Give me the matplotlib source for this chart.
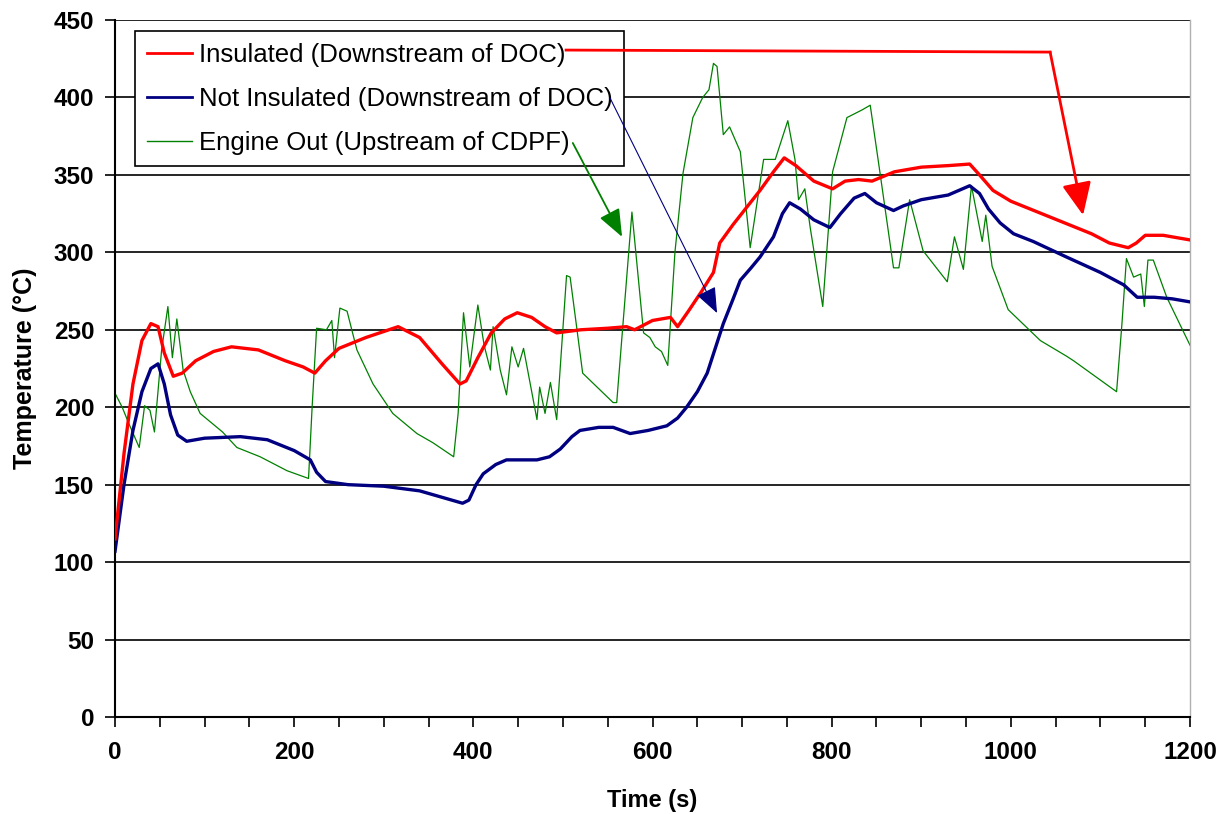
import numpy as np
import matplotlib
matplotlib.use("Agg")
import matplotlib.pyplot as plt
from matplotlib.ticker import MultipleLocator

plt.rcParams['font.family'] = ['Liberation Sans', 'DejaVu Sans']

# Insulated (Downstream of DOC) - time (s), temperature (C)
ins_t = [0, 10, 20, 30, 40, 48, 55, 65, 75, 90, 110, 130, 160, 190, 210, 223,
         235, 250, 280, 316, 340, 365, 385, 392, 405, 420, 435, 449, 465, 480,
         493, 520, 550, 571, 580, 600, 620, 628, 640, 655, 668, 675, 690, 705,
         720, 735, 747, 760, 780, 801, 815, 830, 845, 870, 900, 930, 954, 965,
         980, 1000, 1030, 1060, 1090, 1110, 1131, 1140, 1150, 1170, 1200]
ins_T = [115, 170, 215, 243, 254, 252, 235, 220, 222, 230, 236, 239, 237, 230,
         226, 222, 230, 238, 245, 252, 245, 228, 215, 217, 232, 248, 257, 261,
         258, 252, 248, 250, 251, 252, 250, 256, 258, 252, 262, 275, 287, 306,
         318, 329, 340, 352, 361, 356, 346, 341, 346, 347, 346, 352, 355, 356,
         357, 350, 340, 333, 326, 319, 312, 306, 303, 306, 311, 311, 308]

# Not Insulated (Downstream of DOC)
not_t = [0, 10, 20, 30, 40, 48, 55, 62, 70, 80, 100, 140, 170, 200, 218, 225,
         235, 260, 300, 340, 370, 388, 395, 403, 411, 425, 437, 471, 485, 497,
         510, 519, 540, 556, 575, 595, 616, 628, 638, 650, 661, 670, 679, 690,
         698, 710, 720, 735, 745, 753, 765, 780, 798, 810, 825, 837, 850, 869,
         880, 900, 930, 954, 965, 975, 988, 1003, 1025, 1062, 1100, 1126, 1141,
         1160, 1180, 1200]
not_T = [107, 150, 185, 210, 225, 228, 215, 195, 182, 178, 180, 181, 179, 172,
         166, 158, 152, 150, 149, 146, 141, 138, 140, 150, 157, 163, 166, 166,
         168, 173, 181, 185, 187, 187, 183, 185, 188, 193, 200, 210, 222, 238,
         254, 270, 282, 290, 297, 310, 325, 332, 328, 321, 316, 325, 335, 338,
         332, 327, 330, 334, 337, 343, 338, 328, 319, 312, 307, 297, 287, 279,
         271, 271, 270, 268]

# Engine Out (Upstream of CDPF)
eng_t = [0, 8, 15, 27, 33, 39, 44, 52, 59, 64, 69, 76, 84, 95, 120, 136, 162,
         192, 216, 220, 225, 236, 242, 245, 251, 259, 270, 288, 310, 337, 355,
         378, 383, 389, 396, 405, 412, 419, 422, 430, 437, 443, 450, 456, 471,
         474, 480, 486, 493, 504, 508, 522, 556, 560, 577, 590, 597, 603, 610,
         617, 625, 634, 645, 656, 663, 668, 672, 679, 686, 698, 709, 724, 737,
         751, 759, 763, 770, 776, 790, 801, 817, 834, 843, 854, 869, 875, 887,
         902, 929, 937, 947, 956, 968, 972, 979, 997, 1033, 1062, 1070, 1118,
         1124, 1129, 1137, 1145, 1149, 1153, 1159, 1174, 1200]
eng_T = [209, 200, 190, 174, 201, 198, 184, 237, 265, 232, 257, 224, 210, 196,
         184, 174, 168, 159, 154, 200, 251, 250, 256, 232, 264, 262, 237, 215,
         196, 183, 177, 168, 196, 261, 226, 266, 240, 224, 252, 224, 208, 239,
         226, 238, 192, 213, 196, 216, 192, 285, 284, 222, 203, 203, 326, 248,
         245, 239, 236, 227, 300, 351, 387, 400, 405, 422, 420, 376, 381, 365,
         303, 360, 360, 385, 360, 334, 341, 316, 265, 352, 387, 392, 395, 351,
         290, 290, 334, 301, 281, 310, 289, 343, 307, 324, 291, 263, 243, 233,
         230, 210, 254, 296, 284, 286, 265, 295, 295, 271, 240]

labels = ['Insulated (Downstream of DOC)',
          'Not Insulated (Downstream of DOC)',
          'Engine Out (Upstream of CDPF)']

fig = plt.figure(figsize=(12.29, 8.14), dpi=100)
ax = fig.add_axes([0.0936, 0.1192, 0.8747, 0.8562])

# horizontal gridlines
for yv in range(50, 451, 50):
    ax.axhline(yv, color='black', lw=1.2, zorder=1)

l1, = ax.plot(ins_t, ins_T, color='#ff0000', lw=2.4, zorder=4)
l2, = ax.plot(not_t, not_T, color='#000080', lw=2.4, zorder=3)
l3, = ax.plot(eng_t, eng_T, color='#008000', lw=0.9, zorder=2)

ax.set_xlim(0, 1200)
ax.set_ylim(0, 450)
ax.xaxis.set_major_locator(MultipleLocator(200))
ax.xaxis.set_minor_locator(MultipleLocator(50))
ax.yaxis.set_major_locator(MultipleLocator(50))
ax.tick_params(axis='both', which='both', direction='out', length=7, width=1.2,
               labelsize=17.5)
ax.tick_params(axis='x', pad=10)
ax.tick_params(axis='y', pad=8)
for lab in ax.get_xticklabels() + ax.get_yticklabels():
    lab.set_fontweight('bold')

ax.spines['left'].set_linewidth(1.5)
ax.spines['bottom'].set_linewidth(1.5)
ax.spines['top'].set_visible(False)
ax.spines['right'].set_color('#b0b0b0')
ax.spines['right'].set_linewidth(1)

ax.set_xlabel('Time (s)', fontsize=17, fontweight='bold')
ax.set_ylabel('Temperature (°C)', fontsize=18, fontweight='bold')
ax.xaxis.set_label_coords(0.5, -0.103)
ax.yaxis.set_label_coords(-0.073, 0.5)

leg = ax.legend([l1, l2, l3], labels, loc='upper left',
                bbox_to_anchor=(0.0186, 0.984), borderaxespad=0,
                fontsize=18.5, frameon=True, fancybox=False, framealpha=1,
                edgecolor='black', handlelength=1.75, handletextpad=0.28,
                labelspacing=0.78, borderpad=0.45)
leg.get_frame().set_linewidth(1.2)
leg.set_zorder(6)
for h, w in zip(leg.legend_handles, [2.0, 2.0, 1.0]):
    h.set_linewidth(w)

# callout arrows from legend to curves
ax.plot([503.5, 1043.8], [430.6, 429.3], color='#ff0000', lw=2.0, zorder=7,
        clip_on=False)
ax.annotate('', xy=(1080.6, 324), xytext=(1043.8, 429.3),
            arrowprops=dict(arrowstyle='-|>,head_length=1.0,head_width=0.45',
                            mutation_scale=20, color='#ff0000', lw=2.0,
                            shrinkA=0, shrinkB=0), zorder=7)
ax.annotate('', xy=(672, 260.8), xytext=(552.6, 399.6),
            arrowprops=dict(arrowstyle='-|>,head_length=1.0,head_width=0.4',
                            mutation_scale=16, color='#000080', lw=0.8,
                            shrinkA=0, shrinkB=0), zorder=7)
ax.annotate('', xy=(566, 310), xytext=(511, 370.6),
            arrowprops=dict(arrowstyle='-|>,head_length=1.0,head_width=0.4',
                            mutation_scale=17, color='#008000', lw=1.3,
                            shrinkA=0, shrinkB=0), zorder=7)

fig.savefig('out.png', dpi=100, facecolor='white')
